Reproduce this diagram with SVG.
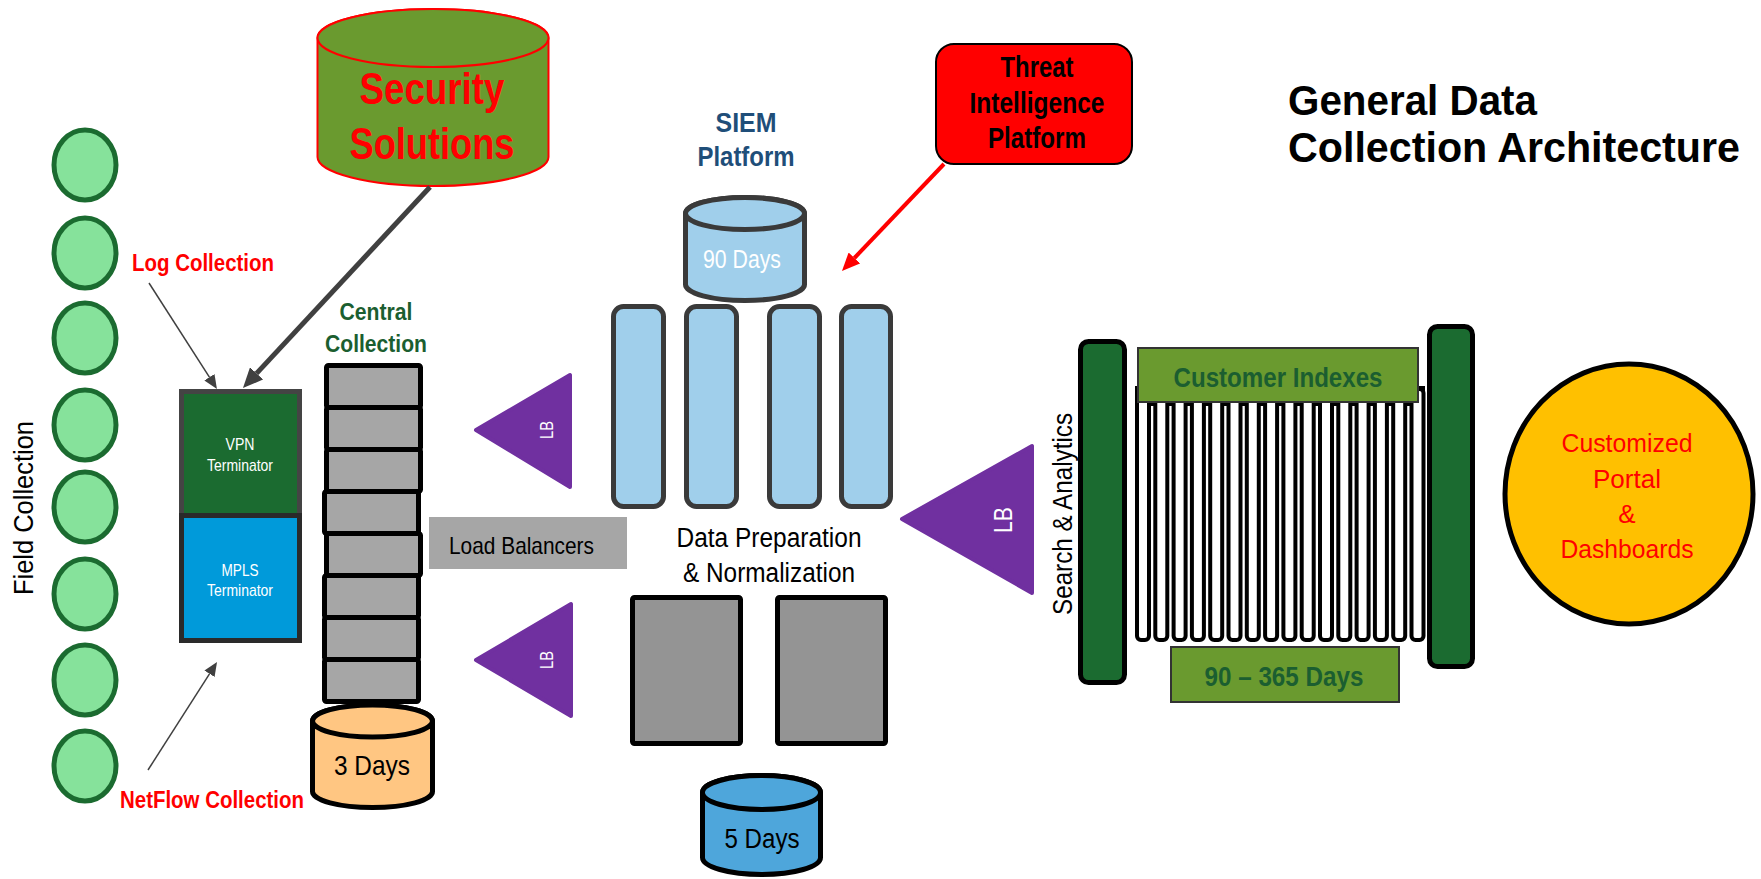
<svg xmlns="http://www.w3.org/2000/svg" width="1761" height="879" viewBox="0 0 1761 879">
<style>
text { font-family: "Liberation Sans", Arial, sans-serif; }
.b { font-weight: bold; }
.field { fill: #86E29B; stroke: #1B6B30; stroke-width: 5; }
.blk { fill: #A6A6A6; stroke: #000; stroke-width: 5; }
.siem { fill: #A0CFEB; stroke: #3A3A3A; stroke-width: 5; }
.lb { fill: #7030A0; stroke: #7030A0; stroke-width: 4; stroke-linejoin: round; }
.lbt { fill: #fff; }
.srv { fill: #949494; stroke: #000; stroke-width: 5; }
.fin { fill: #fff; stroke: #000; stroke-width: 4; }
.bar { fill: #1B6B30; stroke: #000; stroke-width: 5; }
.olive { fill: #6A9A2F; }
.dg { fill: #1B5E30; }
.red { fill: #FF0000; }
</style>
<defs>
<marker id="ahThin" markerUnits="userSpaceOnUse" markerWidth="14" markerHeight="12" viewBox="0 0 14 12" refX="0" refY="6" orient="auto"><path d="M0,0 L14,6 L0,12 Z" fill="#404040"/></marker>
<marker id="ahThick" markerUnits="userSpaceOnUse" markerWidth="20" markerHeight="18" viewBox="0 0 20 18" refX="0" refY="9" orient="auto"><path d="M0,0 L20,9 L0,18 Z" fill="#404040"/></marker>
<marker id="ahRed" markerUnits="userSpaceOnUse" markerWidth="18" markerHeight="16" viewBox="0 0 18 16" refX="0" refY="8" orient="auto"><path d="M0,0 L18,8 L0,16 Z" fill="#FF0000"/></marker>
</defs>

<g id="field-collection">
<ellipse class="field" cx="85" cy="165" rx="31" ry="35"/>
<ellipse class="field" cx="85" cy="253" rx="31" ry="35"/>
<ellipse class="field" cx="85" cy="338" rx="31" ry="35"/>
<ellipse class="field" cx="85" cy="425" rx="31" ry="35"/>
<ellipse class="field" cx="85" cy="507" rx="31" ry="35"/>
<ellipse class="field" cx="85" cy="594" rx="31" ry="35"/>
<ellipse class="field" cx="85" cy="680" rx="31" ry="35"/>
<ellipse class="field" cx="85" cy="766" rx="31" ry="35"/>
<text transform="translate(33,508) rotate(-90)" text-anchor="middle" font-size="28" textLength="174" lengthAdjust="spacingAndGlyphs">Field Collection</text>
</g>

<g id="log-collection-label">
<text class="b red" x="132" y="271" font-size="24" textLength="142" lengthAdjust="spacingAndGlyphs">Log Collection</text>
</g>
<g id="netflow-collection-label">
<text class="b red" x="120" y="808" font-size="24" textLength="184" lengthAdjust="spacingAndGlyphs">NetFlow Collection</text>
</g>

<g id="security-solutions">
<path d="M317.5,38 V157 A115.5,29 0 0 0 548.5,157 V38 A115.5,29 0 0 0 317.5,38 Z" fill="#6A9A2F" stroke="#FF0000" stroke-width="2"/>
<ellipse cx="433" cy="38" rx="115.5" ry="29" fill="#6A9A2F" stroke="#FF0000" stroke-width="2"/>
<text class="b red" x="432" y="104" font-size="45" text-anchor="middle" textLength="145" lengthAdjust="spacingAndGlyphs">Security</text>
<text class="b red" x="432" y="159" font-size="45" text-anchor="middle" textLength="165" lengthAdjust="spacingAndGlyphs">Solutions</text>
</g>

<g id="terminators">
<rect x="181.5" y="391.5" width="118" height="124" fill="#1B6B30" stroke="#444" stroke-width="5"/>
<rect x="181.5" y="515.5" width="118" height="125" fill="#009ADA" stroke="#2A2A2A" stroke-width="5"/>
<text x="240" y="450" font-size="17" text-anchor="middle" fill="#fff" textLength="29" lengthAdjust="spacingAndGlyphs">VPN</text>
<text x="240" y="471" font-size="17" text-anchor="middle" fill="#fff" textLength="66" lengthAdjust="spacingAndGlyphs">Terminator</text>
<text x="240" y="576" font-size="17" text-anchor="middle" fill="#fff" textLength="37" lengthAdjust="spacingAndGlyphs">MPLS</text>
<text x="240" y="596" font-size="17" text-anchor="middle" fill="#fff" textLength="66" lengthAdjust="spacingAndGlyphs">Terminator</text>
</g>

<g id="central-collection">
<text class="b dg" x="376" y="320" font-size="24" text-anchor="middle" textLength="73" lengthAdjust="spacingAndGlyphs">Central</text>
<text class="b dg" x="376" y="352" font-size="24" text-anchor="middle" textLength="102" lengthAdjust="spacingAndGlyphs">Collection</text>
<rect class="blk" x="326.5" y="365.5" width="94" height="42" rx="2"/>
<rect class="blk" x="326.5" y="407.5" width="94" height="42" rx="2"/>
<rect class="blk" x="326.5" y="449.5" width="94" height="42" rx="2"/>
<rect class="blk" x="324.5" y="491.5" width="94" height="42" rx="2"/>
<rect class="blk" x="326.5" y="533.5" width="94" height="42" rx="2"/>
<rect class="blk" x="324.5" y="575.5" width="94" height="42" rx="2"/>
<rect class="blk" x="324.5" y="617.5" width="94" height="42" rx="2"/>
<rect class="blk" x="324.5" y="659.5" width="94" height="42" rx="2"/>
</g>

<g id="three-days">
<path d="M312.5,721 V791.5 A60,16 0 0 0 432.5,791.5 V721 A60,16 0 0 0 312.5,721 Z" fill="#FFC682" stroke="#000" stroke-width="5"/>
<ellipse cx="372.5" cy="721" rx="60" ry="16" fill="#FFC682" stroke="#000" stroke-width="5"/>
<text x="372" y="775" font-size="28" text-anchor="middle" textLength="76" lengthAdjust="spacingAndGlyphs">3 Days</text>
</g>

<g id="load-balancers">
<polygon class="lb" points="476,430 570,375 570,487"/>
<text class="lbt" transform="translate(553,430) rotate(-90)" text-anchor="middle" font-size="18" textLength="18" lengthAdjust="spacingAndGlyphs">LB</text>
<polygon class="lb" points="476,660 571,604 571,716"/>
<text class="lbt" transform="translate(553,660) rotate(-90)" text-anchor="middle" font-size="18" textLength="18" lengthAdjust="spacingAndGlyphs">LB</text>
<rect x="429" y="517" width="198" height="52" fill="#A6A6A6"/>
<text x="449" y="554" font-size="24" textLength="145" lengthAdjust="spacingAndGlyphs">Load Balancers</text>
</g>

<g id="siem-platform">
<text x="746" y="132" font-size="28" class="b" fill="#1F4E79" text-anchor="middle" textLength="61" lengthAdjust="spacingAndGlyphs">SIEM</text>
<text x="746" y="166" font-size="28" class="b" fill="#1F4E79" text-anchor="middle" textLength="97" lengthAdjust="spacingAndGlyphs">Platform</text>
<path d="M685.5,213.5 V284.5 A59.5,16 0 0 0 804.5,284.5 V213.5 A59.5,16 0 0 0 685.5,213.5 Z" class="siem"/>
<ellipse cx="745" cy="213.5" rx="59.5" ry="16" class="siem"/>
<text x="742" y="268" font-size="26" fill="#fff" text-anchor="middle" textLength="78" lengthAdjust="spacingAndGlyphs">90 Days</text>
<rect class="siem" x="613.5" y="306.5" width="50" height="200" rx="10"/>
<rect class="siem" x="686.5" y="306.5" width="50" height="200" rx="10"/>
<rect class="siem" x="769.5" y="306.5" width="50" height="200" rx="10"/>
<rect class="siem" x="841.5" y="306.5" width="49" height="200" rx="10"/>
</g>

<g id="data-preparation">
<text x="769" y="547" font-size="27" text-anchor="middle" textLength="185" lengthAdjust="spacingAndGlyphs">Data Preparation</text>
<text x="769" y="582" font-size="27" text-anchor="middle" textLength="172" lengthAdjust="spacingAndGlyphs">&amp; Normalization</text>
<rect class="srv" x="632.5" y="597.5" width="108" height="146" rx="2"/>
<rect class="srv" x="777.5" y="597.5" width="108" height="146" rx="2"/>
</g>

<g id="five-days">
<path d="M702.5,792.5 V857.5 A59,17 0 0 0 820.5,857.5 V792.5 A59,17 0 0 0 702.5,792.5 Z" fill="#4EA6DB" stroke="#000" stroke-width="5"/>
<ellipse cx="761.5" cy="792.5" rx="59" ry="17" fill="#4EA6DB" stroke="#000" stroke-width="5"/>
<text x="762" y="848" font-size="27" text-anchor="middle" textLength="75" lengthAdjust="spacingAndGlyphs">5 Days</text>
</g>

<g id="threat-intelligence">
<rect x="936" y="44" width="196" height="120" rx="18" fill="#FF0000" stroke="#000" stroke-width="2"/>
<text class="b" x="1037" y="77" font-size="29" text-anchor="middle" textLength="73" lengthAdjust="spacingAndGlyphs">Threat</text>
<text class="b" x="1037" y="113" font-size="29" text-anchor="middle" textLength="135" lengthAdjust="spacingAndGlyphs">Intelligence</text>
<text class="b" x="1037" y="148" font-size="29" text-anchor="middle" textLength="98" lengthAdjust="spacingAndGlyphs">Platform</text>
</g>

<g id="search-lb">
<polygon class="lb" points="902,519 1032,446 1032,593"/>
<text class="lbt" transform="translate(1012,520) rotate(-90)" text-anchor="middle" font-size="26" textLength="26" lengthAdjust="spacingAndGlyphs">LB</text>
</g>

<g id="search-analytics">
<text transform="translate(1072,514) rotate(-90)" text-anchor="middle" font-size="28" textLength="202" lengthAdjust="spacingAndGlyphs">Search &amp; Analytics</text>
<rect x="1135" y="386" width="290" height="20" fill="#000"/>
<rect class="fin" x="1137" y="389" width="12" height="251" rx="4"/>
<rect class="fin" x="1155.3" y="389" width="12" height="251" rx="4"/>
<rect class="fin" x="1173.6" y="389" width="12" height="251" rx="4"/>
<rect class="fin" x="1191.9" y="389" width="12" height="251" rx="4"/>
<rect class="fin" x="1210.2" y="389" width="12" height="251" rx="4"/>
<rect class="fin" x="1228.5" y="389" width="12" height="251" rx="4"/>
<rect class="fin" x="1246.8" y="389" width="12" height="251" rx="4"/>
<rect class="fin" x="1265.1" y="389" width="12" height="251" rx="4"/>
<rect class="fin" x="1283.4" y="389" width="12" height="251" rx="4"/>
<rect class="fin" x="1301.7" y="389" width="12" height="251" rx="4"/>
<rect class="fin" x="1320" y="389" width="12" height="251" rx="4"/>
<rect class="fin" x="1338.3" y="389" width="12" height="251" rx="4"/>
<rect class="fin" x="1356.6" y="389" width="12" height="251" rx="4"/>
<rect class="fin" x="1374.9" y="389" width="12" height="251" rx="4"/>
<rect class="fin" x="1393.2" y="389" width="12" height="251" rx="4"/>
<rect class="fin" x="1411.5" y="389" width="12" height="251" rx="4"/>
<rect class="olive" x="1138" y="348" width="280" height="54" stroke="#333" stroke-width="2"/>
<text class="b dg" x="1278" y="387" font-size="28" text-anchor="middle" textLength="209" lengthAdjust="spacingAndGlyphs">Customer Indexes</text>
<rect class="bar" x="1080.5" y="341.5" width="44" height="341" rx="8"/>
<rect class="bar" x="1429.5" y="326.5" width="43" height="340" rx="8"/>
<rect class="olive" x="1171" y="647" width="228" height="55" stroke="#333" stroke-width="2"/>
<text class="b dg" x="1284" y="686" font-size="28" text-anchor="middle" textLength="159" lengthAdjust="spacingAndGlyphs">90 – 365 Days</text>
</g>

<g id="customized-portal">
<ellipse cx="1629" cy="494" rx="124" ry="130" fill="#FFC000" stroke="#000" stroke-width="5"/>
<text class="red" x="1627" y="452" font-size="26" text-anchor="middle" textLength="131" lengthAdjust="spacingAndGlyphs">Customized</text>
<text class="red" x="1627" y="488" font-size="26" text-anchor="middle">Portal</text>
<text class="red" x="1627" y="523" font-size="26" text-anchor="middle">&amp;</text>
<text class="red" x="1627" y="558" font-size="26" text-anchor="middle" textLength="133" lengthAdjust="spacingAndGlyphs">Dashboards</text>
</g>

<g id="title">
<text class="b" x="1288" y="115" font-size="42" textLength="249" lengthAdjust="spacingAndGlyphs">General Data</text>
<text class="b" x="1288" y="162" font-size="42" textLength="452" lengthAdjust="spacingAndGlyphs">Collection Architecture</text>
</g>

<g id="connectors" fill="none">
<path d="M430,187 L256.6,373.4" stroke="#404040" stroke-width="5" marker-end="url(#ahThick)"/>
<path d="M149,283 L209.4,377.2" stroke="#404040" stroke-width="1.5" marker-end="url(#ahThin)"/>
<path d="M148,770 L209.5,673.8" stroke="#404040" stroke-width="1.5" marker-end="url(#ahThin)"/>
<path d="M944,164 L854.4,258" stroke="#FF0000" stroke-width="4" marker-end="url(#ahRed)"/>
</g>
</svg>
